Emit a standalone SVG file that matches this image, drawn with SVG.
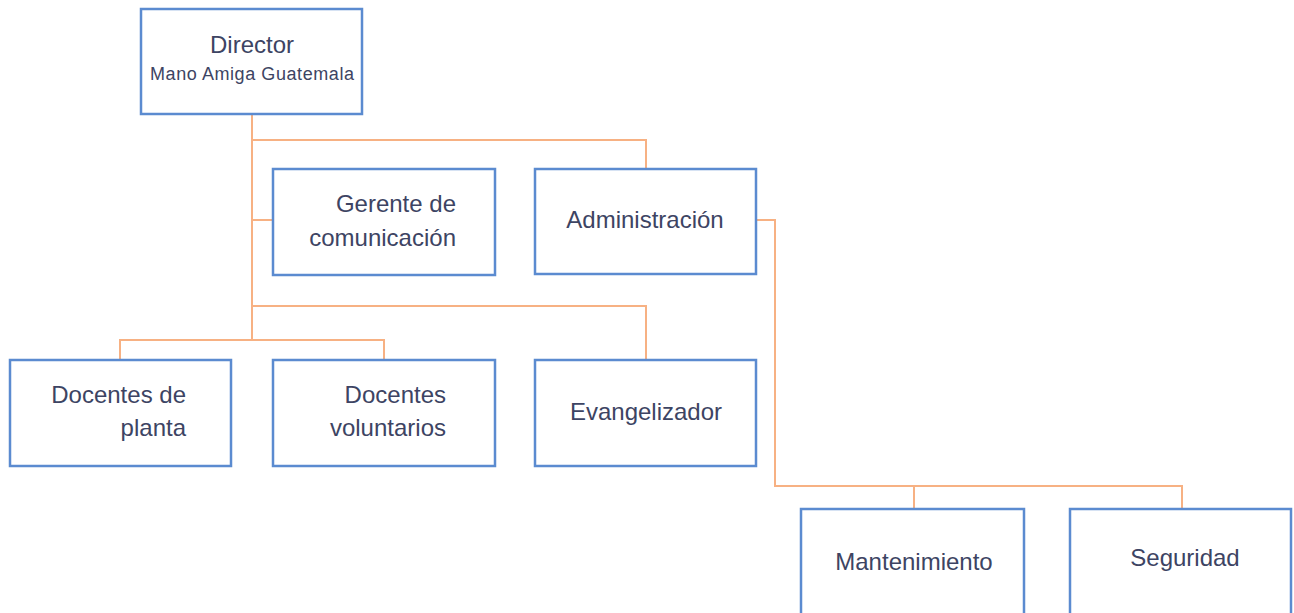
<svg xmlns="http://www.w3.org/2000/svg" width="1294" height="613" viewBox="0 0 1294 613">
<style>
.box{fill:#fff;stroke:#5b8bd0;stroke-width:2.5}
.ln{fill:none;stroke:#f7b183;stroke-width:2}
text{font-family:"Liberation Sans",Arial,sans-serif;fill:#3d4463;font-size:24px}
.s{font-size:18px}
.m{text-anchor:middle}
.e{text-anchor:end}
</style>
<rect width="1294" height="613" fill="#fff"/>
<g id="connectors">
<path class="ln" d="M252 114V340"/>
<path class="ln" d="M252 140H646V169"/>
<path class="ln" d="M252 220H273"/>
<path class="ln" d="M252 306H646V360"/>
<path class="ln" d="M120 360V340H384V360"/>
<path class="ln" d="M756 220H775V486H1182V509"/>
<path class="ln" d="M914 486V509"/>
</g>
<g id="director">
<rect class="box" x="141" y="9" width="221" height="105"/>
<text class="m" x="252" y="53">Director</text>
<text class="m s" x="252" y="80" textLength="204">Mano Amiga Guatemala</text>
</g>
<g id="gerente">
<rect class="box" x="273" y="169" width="222" height="106"/>
<text class="e" x="456" y="212">Gerente de</text>
<text class="e" x="456" y="246">comunicación</text>
</g>
<g id="administracion">
<rect class="box" x="535" y="169" width="221" height="105"/>
<text class="m" x="645" y="228">Administración</text>
</g>
<g id="docentes-planta">
<rect class="box" x="10" y="360" width="221" height="106"/>
<text class="e" x="186" y="403">Docentes de</text>
<text class="e" x="186" y="436">planta</text>
</g>
<g id="docentes-voluntarios">
<rect class="box" x="273" y="360" width="222" height="106"/>
<text class="e" x="446" y="403">Docentes</text>
<text class="e" x="446" y="436">voluntarios</text>
</g>
<g id="evangelizador">
<rect class="box" x="535" y="360" width="221" height="106"/>
<text class="m" x="646" y="420">Evangelizador</text>
</g>
<g id="mantenimiento">
<rect class="box" x="801" y="509" width="223" height="110"/>
<text class="m" x="914" y="570">Mantenimiento</text>
</g>
<g id="seguridad">
<rect class="box" x="1070" y="509" width="221" height="110"/>
<text class="m" x="1185" y="566">Seguridad</text>
</g>
</svg>
